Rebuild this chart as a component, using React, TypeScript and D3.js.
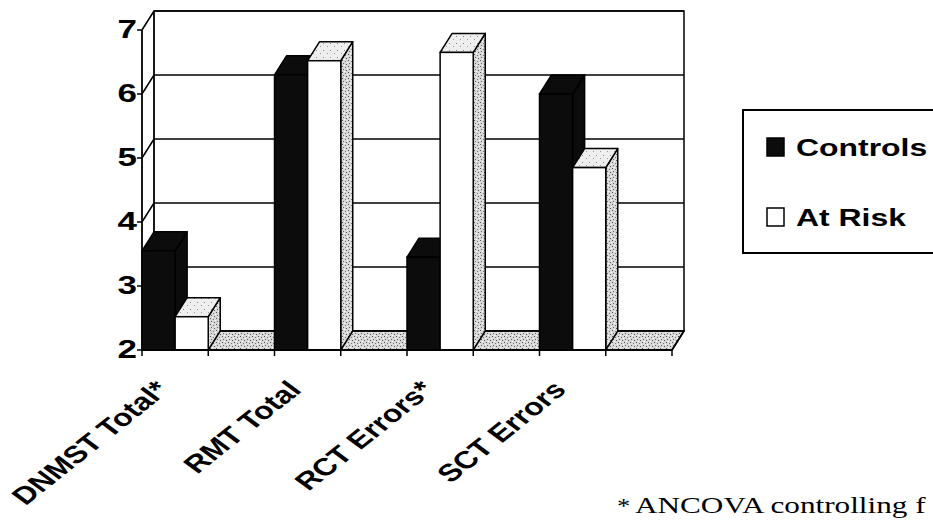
import React from "react";
import * as d3 from "d3";

const categories = ["DNMST Total*", "RMT Total", "RCT Errors*", "SCT Errors"];
const seriesNames = ["Controls", "At Risk"];
const controls = [3.55, 6.3, 3.45, 6.0];
const atRisk = [2.52, 6.52, 6.65, 4.85];
const yTicks = [2, 3, 4, 5, 6, 7];
const footnoteMark = "*";
const footnoteText = "ANCOVA controlling f";

const W = 933;
const H = 527;
const X0 = 142;
const X1 = 672;
const YB = 350;
const YT = 30;
const DX = 12;
const DY = -19;
const SX = 1.3;
const SANS = "'Liberation Sans', Arial, sans-serif";
const SERIF = "'Liberation Serif', 'Times New Roman', serif";

export default function App() {
  const x = d3.scaleBand<string>().domain(categories).range([X0, X1]).padding(0);
  const bw = x.bandwidth();
  const xs = d3.scaleBand<string>().domain(seriesNames).range([0, bw / 2]).padding(0);
  const w = xs.bandwidth();
  const y = d3.scaleLinear().domain([2, 7]).range([YB, YT]);
  const values = [controls, atRisk];
  const pt = (a: number, b: number) => `${a},${b}`;
  const xTicks = d3.range(categories.length * 2 + 1).map((k) => X0 + (k * bw) / 2);

  const bars: React.ReactNode[] = [];
  categories.forEach((c, i) => {
    seriesNames.forEach((s, j) => {
      const v = values[j][i];
      const bx = (x(c) as number) + (xs(s) as number);
      const yv = y(v);
      const dark = j === 0;
      const stroke = "#000";
      bars.push(
        <g key={`${c}-${s}`}>
          <polygon
            points={[pt(bx + w, yv), pt(bx + w + DX, yv + DY), pt(bx + w + DX, YB + DY), pt(bx + w, YB)].join(" ")}
            fill={dark ? "#0c0c0c" : "url(#stipple)"}
            stroke={stroke}
            strokeWidth={1.5}
            strokeLinejoin="round"
          />
          <polygon
            points={[pt(bx, yv), pt(bx + w, yv), pt(bx + w + DX, yv + DY), pt(bx + DX, yv + DY)].join(" ")}
            fill={dark ? "#0c0c0c" : "url(#stippleLight)"}
            stroke={stroke}
            strokeWidth={1.5}
            strokeLinejoin="round"
          />
          <rect x={bx} y={yv} width={w} height={YB - yv} fill={dark ? "#0c0c0c" : "#fff"} stroke={stroke} strokeWidth={1.5} />
        </g>
      );
    });
  });

  return (
    <svg width={W} height={H} style={{ position: "absolute", left: 0, top: 0, background: "#fff" }}>
      <defs>
        <pattern id="stipple" width="6" height="6" patternUnits="userSpaceOnUse">
          <rect width="6" height="6" fill="#d8d8d8" />
          <rect x="0" y="0" width="1" height="1" fill="#555" />
          <rect x="3" y="1" width="1" height="1" fill="#777" />
          <rect x="1" y="3" width="1" height="1" fill="#666" />
          <rect x="4" y="4" width="1" height="1" fill="#555" />
          <rect x="2" y="5" width="1" height="1" fill="#fff" />
          <rect x="5" y="2" width="1" height="1" fill="#fff" />
        </pattern>
        <pattern id="stippleLight" width="7" height="7" patternUnits="userSpaceOnUse">
          <rect width="7" height="7" fill="#eeeeee" />
          <rect x="1" y="1" width="1" height="1" fill="#888" />
          <rect x="5" y="4" width="1" height="1" fill="#999" />
        </pattern>
      </defs>

      {/* back wall */}
      <rect x={X0 + DX} y={YT + DY} width={X1 - X0} height={YB - YT} fill="#fff" stroke="#000" strokeWidth={1.5} />
      {/* floor */}
      <polygon
        points={[pt(X0, YB), pt(X1, YB), pt(X1 + DX, YB + DY), pt(X0 + DX, YB + DY)].join(" ")}
        fill="url(#stipple)"
        stroke="#000"
        strokeWidth={1.5}
      />
      {/* gridlines on back wall and left wall */}
      {yTicks.map((t) => (
        <g key={`g${t}`}>
          <line x1={X0 + DX} x2={X1 + DX} y1={y(t) + DY} y2={y(t) + DY} stroke="#000" strokeWidth={1.6} />
          <line x1={X0} x2={X0 + DX} y1={y(t)} y2={y(t) + DY} stroke="#000" strokeWidth={1.5} />
        </g>
      ))}
      <line x1={X0 + DX} x2={X0 + DX} y1={YT + DY} y2={YB + DY} stroke="#000" strokeWidth={1.2} />

      {bars}

      {/* value axis */}
      <line x1={X0} x2={X0} y1={YT} y2={YB} stroke="#000" strokeWidth={1.8} />
      {yTicks.map((t) => (
        <g key={`yt${t}`}>
          <line x1={X0 - 5} x2={X0} y1={y(t)} y2={y(t)} stroke="#000" strokeWidth={1.5} />
          <text
            transform={`translate(${X0 - 5},${y(t) + 8}) scale(1.4,1)`}
            textAnchor="end"
            fontFamily={SANS}
            fontWeight="bold"
            fontSize={25}
            fill="#000"
          >
            {t}
          </text>
        </g>
      ))}

      {/* category axis */}
      <line x1={X0} x2={X1} y1={YB} y2={YB} stroke="#000" strokeWidth={2.2} />
      <line x1={X1} x2={X1 + DX} y1={YB} y2={YB + DY} stroke="#000" strokeWidth={1.5} />
      {xTicks.map((tx, k) => (
        <line key={`xt${k}`} x1={tx} x2={tx} y1={YB} y2={YB + 6} stroke="#000" strokeWidth={1.5} />
      ))}
      {categories.map((c) => {
        const cx = (x(c) as number) + bw / 4;
        return (
          <text
            key={`cl${c}`}
            transform={`translate(${cx - 5},${YB + 41}) scale(${SX},1) rotate(-46)`}
            textAnchor="end"
            fontFamily={SANS}
            fontWeight="bold"
            fontSize={24.5}
            fill="#000"
          >
            {c}
          </text>
        );
      })}

      {/* legend */}
      <rect x={743} y={110} width={260} height={143} fill="#fff" stroke="#000" strokeWidth={2} />
      {seriesNames.map((s, j) => (
        <g key={`lg${s}`} transform={`translate(767,${138 + j * 70})`}>
          <rect x={0} y={0} width={17} height={18} fill={j === 0 ? "#0c0c0c" : "#fff"} stroke="#000" strokeWidth={1.5} />
          <text
            transform={`translate(29,18) scale(1.33,1)`}
            fontFamily={SANS}
            fontWeight="bold"
            fontSize={24}
            fill="#000"
          >
            {s}
          </text>
        </g>
      ))}

      {/* footnote */}
      <text transform={`translate(617,513) scale(1.2,1)`} fontFamily={SERIF} fontSize={22} fill="#000">
        {footnoteMark}
      </text>
      <text transform={`translate(635,513) scale(1.3,1)`} fontFamily={SERIF} fontSize={24} fill="#000">
        {footnoteText}
      </text>
    </svg>
  );
}
